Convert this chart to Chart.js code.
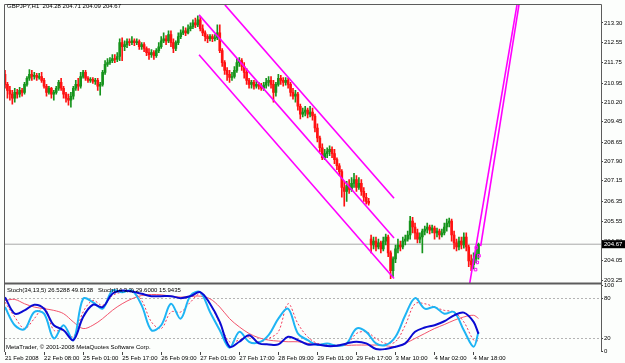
<!DOCTYPE html>
<html>
<head>
<meta charset="utf-8">
<script src="https://cdn.jsdelivr.net/npm/chart.js@4.4.1/dist/chart.umd.min.js"></script>
<style>
    html, body { margin: 0; padding: 0; background: #fcfefc; }
    #contenedor { width: 625px; height: 363px; position: relative; }
</style>
</head>
<body>
<div id="contenedor"><canvas id="chart-gbpjpy"></canvas></div>
<script>
// Etiquetas del eje de tiempo (una cada 16 barras H1)
const etiquetasTiempo = ['21 Feb 2008', '22 Feb 08:00', '25 Feb 01:00', '25 Feb 17:00', '26 Feb 09:00',
    '27 Feb 01:00', '27 Feb 17:00', '28 Feb 09:00', '29 Feb 01:00', '29 Feb 17:00',
    '3 Mar 10:00', '4 Mar 02:00', '4 Mar 18:00'];
const barrasTiempo = [0, 16, 32, 48, 64, 80, 96, 112, 128, 144, 160, 176, 192];
const barrasVisibles = 244.2;

const ticksPrecio = [213.30, 212.55, 211.75, 210.95, 210.20, 209.45, 208.65, 207.90, 207.15, 206.35,
    205.55, 204.80, 204.05, 203.25];
const ticksStoch = [100, 80, 20, 0];

// Velas GBPJPY H1
const aperturas = [
    211.29, 210.90, 210.67, 210.52, 210.36, 210.59, 210.52, 210.67, 210.59, 210.90,
    211.14, 211.29, 211.21, 211.25, 211.17, 211.21, 211.06, 210.83, 210.59, 210.75,
    210.52, 210.59, 210.75, 210.98, 210.75, 210.52, 210.36, 210.29, 210.44, 210.75,
    210.90, 210.83, 211.21, 211.37, 211.14, 211.06, 211.10, 211.02, 211.06, 210.83,
    210.90, 211.37, 211.68, 211.75, 211.83, 211.91, 211.87, 211.99, 212.53, 212.37,
    212.45, 212.57, 212.53, 212.60, 212.53, 212.57, 212.37, 212.45, 212.30, 212.14,
    212.06, 212.14, 212.02, 212.22, 212.37, 212.60, 212.68, 212.60, 212.84, 212.53,
    212.30, 212.53, 212.76, 212.91, 212.99, 212.91, 213.07, 213.15, 213.30, 213.22,
    213.42, 213.07, 212.91, 212.76, 212.68, 212.76, 212.68, 212.72, 212.91, 212.22,
    211.75, 211.45, 211.29, 211.17, 211.21, 211.45, 211.75, 211.83, 211.60, 211.37,
    211.06, 210.90, 210.98, 210.83, 210.90, 210.83, 210.75, 210.87, 210.98, 211.06,
    210.90, 210.59, 210.90, 211.14, 211.06, 210.98, 211.06, 210.90, 210.59, 210.44,
    210.52, 210.05, 209.74, 209.82, 209.90, 209.74, 209.82, 209.67, 209.20, 208.81,
    208.43, 208.04, 208.20, 208.28, 208.37, 208.20, 207.97, 207.73, 207.50, 206.88,
    206.73, 206.96, 206.81, 207.04, 207.19, 206.88, 207.04, 206.73, 206.50, 206.34,
    204.87, 204.64, 204.79, 204.56, 204.72, 204.49, 204.79, 204.95, 204.33, 203.64,
    204.10, 204.49, 204.64, 204.56, 204.79, 204.87, 205.03, 205.57, 205.34, 205.11,
    204.87, 204.95, 205.18, 205.26, 205.34, 205.22, 205.30, 205.11, 205.18, 205.03,
    205.11, 205.34, 205.49, 205.57, 205.03, 204.72, 204.56, 204.79, 204.64, 204.95,
    204.56, 204.02, 203.87, 204.10, 204.28];
const maximos = [
    211.45, 210.98, 210.83, 210.67, 210.75, 210.71, 210.79, 210.75, 210.98, 211.21,
    211.48, 211.45, 211.37, 211.33, 211.33, 211.37, 211.14, 210.90, 210.83, 210.79,
    210.67, 210.83, 211.06, 211.14, 210.83, 210.59, 210.52, 210.59, 210.83, 211.06,
    211.14, 211.37, 211.45, 211.45, 211.21, 211.17, 211.17, 211.14, 211.14, 210.98,
    211.45, 211.83, 211.91, 211.95, 212.06, 212.06, 212.14, 212.68, 212.72, 212.60,
    212.68, 212.68, 212.76, 212.68, 212.68, 212.64, 212.53, 212.53, 212.37, 212.30,
    212.26, 212.22, 212.30, 212.53, 212.76, 212.91, 212.80, 212.99, 212.99, 212.68,
    212.60, 212.91, 213.03, 213.15, 213.11, 213.22, 213.30, 213.42, 213.49, 213.57,
    213.53, 213.22, 212.99, 212.84, 212.84, 212.84, 212.84, 213.22, 213.22, 212.30,
    211.83, 211.56, 211.45, 211.37, 211.60, 211.91, 211.95, 211.91, 211.75, 211.52,
    211.14, 211.06, 211.06, 211.02, 210.98, 210.94, 210.98, 211.14, 211.21, 211.21,
    211.06, 210.98, 211.29, 211.25, 211.17, 211.17, 211.14, 210.98, 210.75, 210.67,
    210.59, 210.13, 209.98, 210.05, 209.98, 210.05, 209.98, 209.74, 209.36, 208.89,
    208.58, 208.37, 208.43, 208.51, 208.47, 208.37, 208.04, 207.81, 207.58, 207.12,
    207.12, 207.19, 207.27, 207.43, 207.35, 207.27, 207.19, 206.88, 206.65, 206.46,
    205.03, 204.95, 204.95, 204.87, 204.79, 204.95, 205.07, 205.03, 204.41, 204.18,
    204.64, 204.87, 204.79, 204.95, 205.03, 205.18, 205.76, 205.72, 205.49, 205.26,
    205.11, 205.26, 205.38, 205.49, 205.42, 205.42, 205.38, 205.30, 205.26, 205.26,
    205.49, 205.65, 205.69, 205.65, 205.18, 204.87, 204.95, 204.95, 205.11, 205.11,
    204.64, 204.26, 204.33, 204.56, 204.71];
const minimos = [
    210.75, 210.36, 210.29, 210.13, 210.21, 210.36, 210.40, 210.44, 210.52, 210.83,
    211.06, 211.06, 211.10, 211.06, 211.10, 210.98, 210.75, 210.44, 210.52, 210.36,
    210.29, 210.52, 210.67, 210.67, 210.36, 210.21, 210.09, 210.01, 210.32, 210.67,
    210.67, 210.75, 211.14, 211.06, 210.98, 210.98, 210.94, 210.90, 210.67, 210.48,
    210.83, 211.29, 211.60, 211.68, 211.75, 211.75, 211.79, 211.83, 211.83, 212.22,
    212.33, 212.41, 212.45, 212.41, 212.45, 212.26, 212.26, 212.18, 212.02, 211.87,
    211.95, 211.87, 211.95, 212.14, 212.30, 212.53, 212.45, 212.53, 212.37, 212.14,
    212.22, 212.45, 212.68, 212.84, 212.80, 212.87, 212.99, 213.07, 213.11, 213.15,
    212.99, 212.80, 212.60, 212.53, 212.60, 212.57, 212.60, 212.64, 212.14, 211.60,
    211.29, 211.06, 210.98, 211.06, 211.14, 211.37, 211.60, 211.45, 211.14, 210.90,
    210.75, 210.75, 210.71, 210.75, 210.71, 210.67, 210.67, 210.75, 210.83, 210.75,
    210.21, 210.44, 210.83, 210.90, 210.83, 210.87, 210.75, 210.44, 210.32, 210.21,
    209.90, 209.55, 209.63, 209.67, 209.59, 209.63, 209.51, 209.05, 208.66, 208.28,
    207.97, 207.97, 208.04, 208.12, 208.04, 207.81, 207.58, 207.35, 206.50, 206.15,
    206.34, 206.65, 206.73, 206.88, 206.73, 206.81, 206.57, 206.34, 206.23, 206.19,
    204.33, 204.49, 204.41, 204.49, 204.33, 204.41, 204.64, 204.18, 203.33, 203.41,
    203.95, 204.33, 204.41, 204.49, 204.64, 204.79, 204.87, 205.11, 204.87, 204.72,
    204.72, 204.33, 205.03, 205.11, 205.07, 205.11, 204.87, 204.95, 204.87, 204.95,
    205.03, 205.18, 205.34, 204.79, 204.49, 204.41, 204.45, 204.49, 204.52, 204.41,
    203.79, 203.64, 203.71, 203.95, 204.09];
const cierres = [
    210.90, 210.67, 210.52, 210.36, 210.59, 210.52, 210.67, 210.59, 210.90, 211.14,
    211.29, 211.21, 211.25, 211.17, 211.21, 211.06, 210.83, 210.59, 210.75, 210.52,
    210.59, 210.75, 210.98, 210.75, 210.52, 210.36, 210.29, 210.44, 210.75, 210.90,
    210.83, 211.21, 211.37, 211.14, 211.06, 211.10, 211.02, 211.06, 210.83, 210.90,
    211.37, 211.68, 211.75, 211.83, 211.91, 211.87, 211.99, 212.53, 212.37, 212.45,
    212.57, 212.53, 212.60, 212.53, 212.57, 212.37, 212.45, 212.30, 212.14, 212.06,
    212.14, 212.02, 212.22, 212.37, 212.60, 212.68, 212.60, 212.84, 212.53, 212.30,
    212.53, 212.76, 212.91, 212.99, 212.91, 213.07, 213.15, 213.30, 213.22, 213.42,
    213.07, 212.91, 212.76, 212.68, 212.76, 212.68, 212.72, 212.91, 212.22, 211.75,
    211.45, 211.29, 211.17, 211.21, 211.45, 211.75, 211.83, 211.60, 211.37, 211.06,
    210.90, 210.98, 210.83, 210.90, 210.83, 210.75, 210.87, 210.98, 211.06, 210.90,
    210.59, 210.90, 211.14, 211.06, 210.98, 211.06, 210.90, 210.59, 210.44, 210.52,
    210.05, 209.74, 209.82, 209.90, 209.74, 209.82, 209.67, 209.20, 208.81, 208.43,
    208.04, 208.20, 208.28, 208.37, 208.20, 207.97, 207.73, 207.50, 206.88, 206.73,
    206.96, 206.81, 207.04, 207.19, 206.88, 207.04, 206.73, 206.50, 206.34, 206.27,
    204.64, 204.79, 204.56, 204.72, 204.49, 204.79, 204.95, 204.33, 203.64, 204.10,
    204.49, 204.64, 204.56, 204.79, 204.87, 205.03, 205.57, 205.34, 205.11, 204.87,
    204.95, 205.18, 205.26, 205.34, 205.22, 205.30, 205.11, 205.18, 205.03, 205.11,
    205.34, 205.49, 205.57, 205.03, 204.72, 204.56, 204.79, 204.64, 204.95, 204.56,
    204.02, 203.87, 204.10, 204.28, 204.67];

// Objetos dibujados (canal bajista, lineas alcistas, marcas)
const canalSupBarras = [90.1, 159.4];
const canalSupPrecios = [214.00, 206.46];
const canalMedBarras = [79.5, 159.4];
const canalMedPrecios = [213.61, 204.91];
const canalInfBarras = [79.5, 159.4];
const canalInfPrecios = [212.06, 203.33];
const alzaIzqBarras = [190.4, 209.9];
const alzaIzqPrecios = [203.14, 214.07];
const alzaDerBarras = [194.9, 210.7];
const alzaDerPrecios = [204.60, 214.07];
const marcasBarras = [193.1, 194.2, 193.5, 192.8];
const marcasPrecios = [204.54, 204.22, 203.96, 203.68];

// Estocasticos, leidos cada 4 barras
const barrasStoch = [0, 4, 8, 12, 16, 20, 24, 28, 32, 36, 40, 44, 48, 52, 56, 60, 64, 68, 72, 76,
    80, 84, 88, 92, 96, 100, 104, 108, 112, 116, 120, 124, 128, 132, 136, 140, 144, 148, 152, 156,
    160, 164, 168, 172, 176, 180, 184, 188, 192, 194];
const stochLentaPrincipal = [82, 57, 62, 70.5, 64.5, 39.5, 32, 17, 52, 70.5,
    67, 87, 92, 90.5, 87, 83.5, 83.5, 83.5, 80.5, 83.5,
    89.5, 72, 44.5, 7, 14.5, 24.5, 12, 10.5, 10.5, 22,
    17, 10.5, 10.5, 8, 8.5, 12, 14.5, 12, 3.5, 3.5,
    7, 12, 29.5, 36, 39.5, 45.5, 54.5, 58.5, 44.5, 26.53];
const stochLentaSenal = [77, 78.5, 72, 67, 64.5, 62, 57, 44.5, 34.5, 39.5,
    49.5, 62, 72, 79.5, 84.5, 86, 85.5, 83.5, 82, 83,
    83.5, 79.5, 67, 49.5, 37, 27, 20.5, 17, 15.5, 14.5,
    14.5, 12, 10.5, 8.5, 8.5, 9, 9.5, 9.5, 9.5, 8.5,
    7, 12, 19.5, 27, 34.5, 40.5, 47, 52, 54.5, 49.81];
const stochRapidaPrincipal = [67, 39.5, 33.5, 59.5, 57, 19.5, 39.5, 17, 79.5, 74.5,
    64.5, 92, 89.5, 92, 69.5, 32, 39.5, 72, 49.5, 84.5,
    89.5, 59.5, 32, 5.5, 29.5, 14.5, 13.5, 24.5, 49.5, 64.5,
    27, 17, 9.5, 12, 8.5, 12, 34.5, 29.5, 12, 9.5,
    22, 54.5, 80.5, 64.5, 67, 57, 59.5, 32, 7, 29.6];
const stochRapidaSenal = [74.5, 52, 34.5, 49.5, 67, 32, 32, 22, 59.5, 77,
    69.5, 84.5, 89.5, 90.5, 77, 44.5, 34.5, 59.5, 59.5, 74.5,
    87, 72, 42, 14.5, 17, 22, 14.5, 19.5, 29.5, 72,
    42, 22, 12, 10.5, 9.5, 10.5, 27, 29.5, 19.5, 12,
    14.5, 39.5, 72, 72, 67, 62, 59.5, 44.5, 17, 15.94];

const tituloPar = 'GBPJPY,H1  204.28 204.71 204.09 204.67';
const tituloStoch = 'Stoch(34,13,5) 26.5288 49.8138   Stoch(14,3,3) 29.6000 15.9435';
const textoCopyright = 'MetaTrader, \u00a9 2001-2008 MetaQuotes Software Corp.';

const FUENTE = '"Liberation Sans", Arial, sans-serif';
Chart.defaults.font.family = FUENTE;
Chart.defaults.font.size = 6;
Chart.defaults.color = '#000';

const puntos = (xs, ys) => xs.map((x, k) => ({ x, y: ys[k] }));
const indices = cierres.map((_, i) => i);
const colorVela = indices.map(i => cierres[i] >= aperturas[i] ? '#16941c' : '#ff1212');
const ultimo = cierres[cierres.length - 1];

function lineaObjeto(label, xs, ys) {
    return {
        type: 'line', label, data: puntos(xs, ys), yAxisID: 'y',
        borderColor: '#ff00ff', borderWidth: 1.6, pointRadius: 0, order: 1
    };
}

function lineaStoch(label, valores, color, ancho, orden, guiones) {
    return {
        type: 'line', label, data: puntos(barrasStoch, valores), yAxisID: 'y2',
        borderColor: color, borderWidth: ancho, borderDash: guiones || [],
        pointRadius: 0, tension: 0.35, order: orden
    };
}

// Fondo, marcos y textos estilo MetaTrader
const marcoMT = {
    id: 'marcoMT',
    beforeDraw(chart) {
        const { ctx, width, height } = chart;
        ctx.save();
        ctx.fillStyle = '#fcfefc';
        ctx.fillRect(0, 0, width, height);
        ctx.restore();
    },
    afterDraw(chart) {
        const { ctx, chartArea } = chart;
        const yP = chart.scales.y;
        ctx.save();
        ctx.strokeStyle = '#5c5c5c';
        ctx.lineWidth = 1;
        ctx.beginPath();
        ctx.moveTo(chartArea.left - 0.5, chartArea.bottom);
        ctx.lineTo(chartArea.left - 0.5, chartArea.top - 0.5);
        ctx.lineTo(chartArea.right + 0.5, chartArea.top - 0.5);
        ctx.lineTo(chartArea.right + 0.5, chartArea.bottom);
        ctx.stroke();

        ctx.lineWidth = 2;
        ctx.beginPath();
        ctx.moveTo(chartArea.left, yP.bottom);
        ctx.lineTo(chartArea.right, yP.bottom);
        ctx.stroke();

        ctx.font = '6px ' + FUENTE;
        ctx.textBaseline = 'middle';
        ctx.fillStyle = '#000';
        ctx.fillText(tituloPar, chartArea.left + 2, 6);
        ctx.fillText(tituloStoch, chartArea.left + 2, yP.bottom + 7);
        ctx.fillText(textoCopyright, chartArea.left + 1, chartArea.bottom - 5);

        // Etiqueta del precio actual
        const yUlt = yP.getPixelForValue(ultimo);
        ctx.fillStyle = '#000';
        ctx.fillRect(chartArea.right + 1, yUlt - 4, 24, 8);
        ctx.fillStyle = '#fff';
        ctx.fillText(ultimo.toFixed(2), chartArea.right + 3, yUlt);
        ctx.restore();
    }
};

const ctxGrafica = document.getElementById('chart-gbpjpy');
new Chart(ctxGrafica, {
    type: 'bar',
    data: {
        datasets: [
            {
                type: 'line', label: 'Bid', data: puntos([0, barrasVisibles], [ultimo, ultimo]),
                yAxisID: 'y', borderColor: '#a9a9a9', borderWidth: 1, pointRadius: 0, order: 20
            },
            {
                type: 'bar', label: 'Mechas', yAxisID: 'y',
                data: indices.map(i => ({ x: i, y: [minimos[i], maximos[i]] })),
                backgroundColor: colorVela, barThickness: 1, grouped: false, order: 11
            },
            {
                type: 'bar', label: 'Cuerpos', yAxisID: 'y',
                data: indices.map(i => ({ x: i, y: [aperturas[i], cierres[i]] })),
                backgroundColor: colorVela, barThickness: 2, minBarLength: 1, grouped: false, order: 10
            },
            lineaObjeto('Canal sup', canalSupBarras, canalSupPrecios),
            lineaObjeto('Canal med', canalMedBarras, canalMedPrecios),
            lineaObjeto('Canal inf', canalInfBarras, canalInfPrecios),
            lineaObjeto('Alza izq', alzaIzqBarras, alzaIzqPrecios),
            lineaObjeto('Alza der', alzaDerBarras, alzaDerPrecios),
            {
                type: 'line', label: 'Marcas', data: puntos(marcasBarras, marcasPrecios), yAxisID: 'y',
                showLine: false, pointStyle: 'rect', pointRadius: 1.8, borderWidth: 1,
                borderColor: '#ff00ff', backgroundColor: 'rgba(0,0,0,0)', order: 0
            },
            lineaStoch('Stoch(34,13,5) senal', stochLentaSenal, '#f2546c', 1, 5),
            lineaStoch('Stoch(14,3,3) senal', stochRapidaSenal, '#f2385a', 1, 5, [2, 2]),
            lineaStoch('Stoch(14,3,3)', stochRapidaPrincipal, '#1eb4f4', 2, 3),
            lineaStoch('Stoch(34,13,5)', stochLentaPrincipal, '#0a0ad2', 2, 2)
        ]
    },
    options: {
        responsive: true,
        maintainAspectRatio: false,
        animation: false,
        devicePixelRatio: 1,
        layout: { padding: { top: 2, left: 2, right: 0, bottom: 0 } },
        plugins: { legend: { display: false }, tooltip: { enabled: false } },
        scales: {
            x: {
                type: 'linear', min: 0, max: barrasVisibles, offset: false,
                grid: { offset: false, drawOnChartArea: false, tickLength: 3, tickColor: '#444' },
                border: { display: false },
                afterBuildTicks: s => { s.ticks = barrasTiempo.map(v => ({ value: v })); },
                afterFit: s => { s.height = 11; },
                ticks: {
                    autoSkip: false, maxRotation: 0, align: 'start', padding: 0,
                    callback: (v, idx) => etiquetasTiempo[idx]
                }
            },
            y: {
                type: 'linear', position: 'right', stack: 'mt', stackWeight: 281,
                min: 203.135, max: 213.996,
                grid: { drawOnChartArea: false, tickLength: 2, tickColor: '#444' },
                border: { display: false },
                afterBuildTicks: s => { s.ticks = ticksPrecio.map(v => ({ value: v })); },
                afterFit: s => { s.width = 24; },
                ticks: { autoSkip: false, padding: 1, callback: v => v.toFixed(2) }
            },
            y2: {
                type: 'linear', position: 'right', stack: 'mt', stackWeight: 69,
                min: -1, max: 102.5,
                grid: {
                    color: c => (c.tick && (c.tick.value === 80 || c.tick.value === 20)) ? '#b4b4b4' : 'rgba(0,0,0,0)',
                    tickLength: 2, tickColor: '#444'
                },
                border: { display: false, dash: [2, 2] },
                afterBuildTicks: s => { s.ticks = ticksStoch.map(v => ({ value: v })); },
                afterFit: s => { s.width = 24; },
                ticks: { autoSkip: false, padding: 1 }
            }
        }
    },
    plugins: [marcoMT]
});
</script>
</body>
</html>
